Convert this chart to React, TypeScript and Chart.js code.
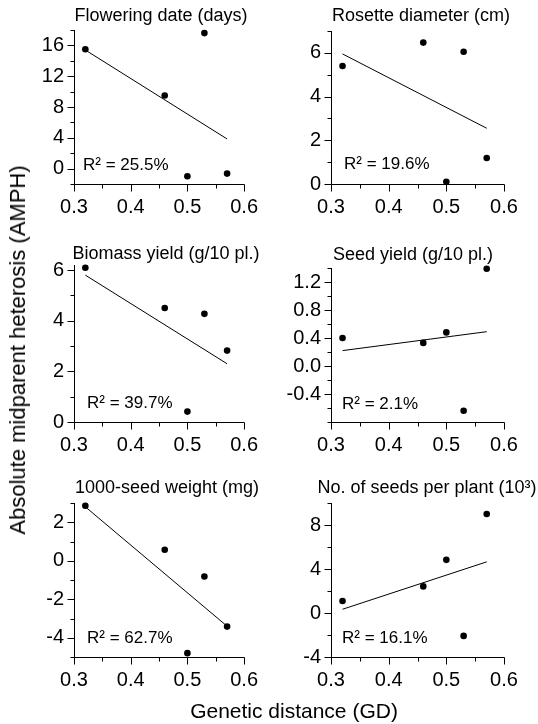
import React, { useEffect, useRef } from "react";
import { Chart, registerables } from "chart.js";

Chart.register(...registerables);

// ---------- data ----------
const gdValues = [0.32, 0.46, 0.5, 0.53, 0.57];

const floweringDate = [15.5, 9.5, -1.0, 17.6, -0.65];
const rosetteDiameter = [5.4, 6.47, 0.1, 6.05, 1.19];
const biomassYield = [6.09, 4.5, 0.41, 4.27, 2.82];
const seedYield = [0.4, 0.33, 0.48, -0.64, 1.39];
const seedWeight = [2.86, 0.57, -4.8, -0.82, -3.42];
const seedsPerPlant = [1.09, 2.42, 4.83, -2.08, 9.0];

const trendGd = [0.32, 0.57];
const floweringTrend = [15.4, 3.85];
const rosetteTrend = [5.95, 2.55];
const biomassTrend = [5.8, 2.3];
const seedYieldTrend = [0.22, 0.49];
const seedWeightTrend = [2.8, -3.4];
const seedsPerPlantTrend = [0.34, 4.65];

const r2Values = [25.5, 19.6, 39.7, 2.1, 62.7, 16.1];

const panelTitles = [
  "Flowering date (days)",
  "Rosette diameter (cm)",
  "Biomass yield (g/10 pl.)",
  "Seed yield (g/10 pl.)",
  "1000-seed weight (mg)",
  "No. of seeds per plant (10³)",
];

const xTickLabels = [0.3, 0.4, 0.5, 0.6];
const floweringTicks = [0, 4, 8, 12, 16];
const rosetteTicks = [0, 2, 4, 6];
const biomassTicks = [0, 2, 4, 6];
const seedYieldTicks = [-0.4, 0.0, 0.4, 0.8, 1.2];
const seedWeightTicks = [-4, -2, 0, 2];
const seedsPerPlantTicks = [-4, 0, 4, 8];

const xAxisTitle = "Genetic distance (GD)";
const yAxisTitle = "Absolute midparent heterosis (AMPH)";

// ---------- layout ----------
const FONT = "'Liberation Sans', Arial, Helvetica, sans-serif";

type Panel = {
  title: string;
  values: number[];
  trend: number[];
  r2: number;
  yMin: number;
  yMax: number;
  yMinor: number;
  yLabels: number[];
  decimals: number;
  canvas: { left: number; top: number; w: number; h: number };
  area: { l: number; t: number; r: number; b: number };
  titlePos: [number, number];
  r2Pos: [number, number];
};

const panels: Panel[] = [
  {
    title: panelTitles[0], values: floweringDate, trend: floweringTrend, r2: r2Values[0],
    yMin: -2, yMax: 18, yMinor: 2, yLabels: floweringTicks, decimals: 0,
    canvas: { left: 0, top: 0, w: 269, h: 230 }, area: { l: 74, t: 30, r: 247, b: 184 },
    titlePos: [161, 16], r2Pos: [83, 165],
  },
  {
    title: panelTitles[1], values: rosetteDiameter, trend: rosetteTrend, r2: r2Values[1],
    yMin: 0, yMax: 7, yMinor: 1, yLabels: rosetteTicks, decimals: 0,
    canvas: { left: 269, top: 0, w: 269, h: 230 }, area: { l: 331, t: 31, r: 504, b: 184 },
    titlePos: [421, 16], r2Pos: [344, 164],
  },
  {
    title: panelTitles[2], values: biomassYield, trend: biomassTrend, r2: r2Values[2],
    yMin: 0, yMax: 6.2, yMinor: 1, yLabels: biomassTicks, decimals: 0,
    canvas: { left: 0, top: 230, w: 269, h: 230 }, area: { l: 74, t: 265, r: 247, b: 422 },
    titlePos: [166, 254], r2Pos: [87, 403],
  },
  {
    title: panelTitles[3], values: seedYield, trend: seedYieldTrend, r2: r2Values[3],
    yMin: -0.8, yMax: 1.4, yMinor: 0.2, yLabels: seedYieldTicks, decimals: 1,
    canvas: { left: 269, top: 230, w: 269, h: 230 }, area: { l: 331, t: 268, r: 504, b: 422 },
    titlePos: [413, 255], r2Pos: [342, 404],
  },
  {
    title: panelTitles[4], values: seedWeight, trend: seedWeightTrend, r2: r2Values[4],
    yMin: -5, yMax: 3, yMinor: 1, yLabels: seedWeightTicks, decimals: 0,
    canvas: { left: 0, top: 460, w: 269, h: 240 }, area: { l: 74, t: 503, r: 247, b: 657 },
    titlePos: [167, 488], r2Pos: [87, 638],
  },
  {
    title: panelTitles[5], values: seedsPerPlant, trend: seedsPerPlantTrend, r2: r2Values[5],
    yMin: -4, yMax: 10, yMinor: 2, yLabels: seedsPerPlantTicks, decimals: 0,
    canvas: { left: 269, top: 460, w: 269, h: 240 }, area: { l: 331, t: 503, r: 504, b: 657 },
    titlePos: [427, 488], r2Pos: [342, 638],
  },
];

const near = (a: number, b: number) => Math.abs(a - b) < 1e-6;

function stepsBetween(min: number, max: number, step: number): number[] {
  const out: number[] = [];
  const start = Math.ceil(min / step - 1e-6);
  for (let k = start; k * step <= max + 1e-6; k++) {
    out.push(Math.round(k * step * 1e6) / 1e6);
  }
  return out;
}

function PanelChart({ p }: { p: Panel }) {
  const ref = useRef<HTMLCanvasElement | null>(null);

  useEffect(() => {
    if (!ref.current) return;
    const c = p.canvas;
    const areaL = p.area.l - c.left;
    const areaR = p.area.r - c.left;
    const areaT = p.area.t - c.top;
    const areaB = p.area.b - c.top;

    const decor = {
      id: "panelDecor",
      afterDraw(chart: any) {
        const { ctx, chartArea, scales } = chart;
        const xs = scales.x;
        const ys = scales.y;
        ctx.save();
        ctx.strokeStyle = "#000";
        ctx.lineWidth = 1;
        ctx.beginPath();
        const left = Math.round(chartArea.left) + 0.5;
        const bottom = Math.round(chartArea.bottom) + 0.5;
        ctx.moveTo(left, Math.round(chartArea.top));
        ctx.lineTo(left, bottom);
        ctx.moveTo(left, bottom);
        ctx.lineTo(Math.round(chartArea.right) + 0.5, bottom);
        ys.ticks.forEach((t: any) => {
          const py = Math.round(ys.getPixelForValue(t.value)) + 0.5;
          const major = p.yLabels.some((v) => near(v, t.value));
          const len = major ? 7 : 4;
          ctx.moveTo(left - len, py);
          ctx.lineTo(left, py);
        });
        xs.ticks.forEach((t: any) => {
          const px = Math.round(xs.getPixelForValue(t.value)) + 0.5;
          const major = xTickLabels.some((v) => near(v, t.value));
          const len = major ? 7 : 4;
          ctx.moveTo(px, bottom);
          ctx.lineTo(px, bottom + len);
        });
        ctx.stroke();

        ctx.fillStyle = "#000";
        ctx.textBaseline = "middle";
        ctx.textAlign = "center";
        ctx.font = `18px ${FONT}`;
        ctx.fillText(p.title, p.titlePos[0] - c.left, p.titlePos[1] - c.top);
        ctx.textAlign = "left";
        ctx.font = `17px ${FONT}`;
        ctx.fillText(`R² = ${p.r2.toFixed(1)}%`, p.r2Pos[0] - c.left, p.r2Pos[1] - c.top);
        ctx.restore();
      },
    };

    const chart = new Chart(ref.current, {
      type: "scatter",
      data: {
        datasets: [
          {
            data: gdValues.map((x, i) => ({ x, y: p.values[i] })),
            pointRadius: 3.3,
            pointHoverRadius: 3.3,
            backgroundColor: "#000",
            borderColor: "#000",
            borderWidth: 0,
            showLine: false,
            clip: false,
          } as any,
          {
            data: trendGd.map((x, i) => ({ x, y: p.trend[i] })),
            showLine: true,
            pointRadius: 0,
            borderColor: "#000",
            borderWidth: 1,
            backgroundColor: "#000",
            clip: false,
          } as any,
        ],
      },
      options: {
        animation: false,
        responsive: false,
        events: [],
        layout: { padding: { top: areaT, right: c.w - areaR, left: 0, bottom: 0 } },
        plugins: { legend: { display: false }, tooltip: { enabled: false }, title: { display: false } },
        scales: {
          x: {
            type: "linear",
            min: 0.3,
            max: 0.6,
            grid: { display: false, drawTicks: false },
            border: { display: false },
            afterBuildTicks: (s: any) => {
              s.ticks = stepsBetween(0.3, 0.6, 0.05).map((v) => ({ value: v }));
            },
            afterFit: (s: any) => {
              s.height = c.h - areaB;
            },
            ticks: {
              autoSkip: false,
              maxRotation: 0,
              padding: 11,
              color: "#000",
              font: { family: FONT, size: 20 },
              callback: (v: any) => {
                const n = Number(v);
                return xTickLabels.some((t) => near(t, n)) ? n.toFixed(1) : "";
              },
            },
          },
          y: {
            type: "linear",
            min: p.yMin,
            max: p.yMax,
            grid: { display: false, drawTicks: false },
            border: { display: false },
            afterBuildTicks: (s: any) => {
              s.ticks = stepsBetween(p.yMin, p.yMax, p.yMinor).map((v) => ({ value: v }));
            },
            afterFit: (s: any) => {
              s.width = areaL;
            },
            ticks: {
              autoSkip: false,
              padding: 10,
              color: "#000",
              font: { family: FONT, size: 20 },
              callback: (v: any) => {
                const n = Number(v);
                return p.yLabels.some((t) => near(t, n)) ? (near(n, 0) ? 0 : n).toFixed(p.decimals) : "";
              },
            },
          },
        },
      } as any,
      plugins: [decor],
    });
    return () => chart.destroy();
  }, [p]);

  return (
    <canvas
      ref={ref}
      width={p.canvas.w}
      height={p.canvas.h}
      style={{
        position: "absolute",
        left: p.canvas.left,
        top: p.canvas.top,
        width: p.canvas.w,
        height: p.canvas.h,
      }}
    />
  );
}

export default function App() {
  return (
    <div
      style={{
        position: "absolute",
        left: 0,
        top: 0,
        width: 538,
        height: 724,
        background: "#fff",
        overflow: "hidden",
        fontFamily: FONT,
      }}
    >
      {panels.map((p, i) => (
        <PanelChart key={i} p={p} />
      ))}
      <div
        style={{
          position: "absolute",
          left: 18,
          top: 350,
          transform: "translate(-50%, -50%) rotate(-90deg)",
          whiteSpace: "nowrap",
          fontSize: 22,
          color: "#000",
          lineHeight: 1,
        }}
      >
        {yAxisTitle}
      </div>
      <div
        style={{
          position: "absolute",
          left: 294,
          top: 710,
          transform: "translate(-50%, -50%)",
          whiteSpace: "nowrap",
          fontSize: 21,
          color: "#000",
          lineHeight: 1,
        }}
      >
        {xAxisTitle}
      </div>
    </div>
  );
}
